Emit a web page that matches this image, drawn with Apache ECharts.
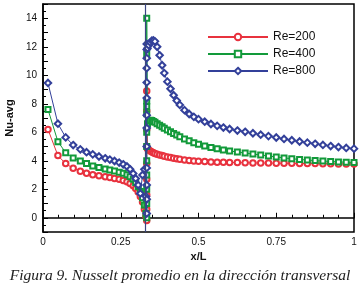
<!DOCTYPE html>
<html>
<head>
<meta charset="utf-8">
<script src="https://cdn.jsdelivr.net/npm/echarts@6/dist/echarts.min.js"></script>
<style>
html,body{margin:0;padding:0;background:#fff;}
#chart{width:360px;height:290px;}
</style>
</head>
<body>
<div id="chart"></div>
<script>
// ---- data ----
const seriesNames = ['Re=200', 'Re=400', 'Re=800'];
const xTickValues = [0, 0.25, 0.5, 0.75, 1];
const yTickValues = [0, 2, 4, 6, 8, 10, 12, 14];
const stepX = [0.3335];

const xLeft = [0.016,0.048,0.073,0.097,0.12,0.14,0.16,0.18,0.2,0.215,0.23,0.245,0.258,0.27,0.28,0.29,0.298,0.306,0.313,0.32,0.326,0.331];
const xRight = [0.336,0.34,0.345,0.35,0.355,0.36,0.367,0.375,0.383,0.39,0.4,0.41,0.42,0.43,0.44,0.455,0.47,0.485,0.5,0.52,0.54,0.56,0.58,0.6,0.625,0.65,0.675,0.7,0.725,0.75,0.775,0.8,0.825,0.85,0.875,0.9,0.925,0.95,0.975,1];

const re200Left = [6.2,4.36,3.8,3.47,3.26,3.12,3.02,2.94,2.87,2.82,2.76,2.7,2.62,2.52,2.4,2.25,2.05,1.8,1.5,1.1,0.6,0.1];
const re200Step = [-0.2,0.6,1.6,2.7,3.8,5.0,6.2,7.5,8.9];
const re200Right = [4.85,4.75,4.68,4.62,4.56,4.51,4.46,4.41,4.36,4.32,4.27,4.22,4.18,4.14,4.1,4.06,4.02,3.99,3.96,3.94,3.92,3.9,3.89,3.88,3.87,3.86,3.85,3.84,3.84,3.83,3.82,3.82,3.81,3.8,3.8,3.79,3.79,3.78,3.78,3.78];

const re400Left = [7.6,5.34,4.57,4.2,3.98,3.8,3.64,3.52,3.42,3.35,3.28,3.2,3.12,3.02,2.88,2.7,2.48,2.2,1.85,1.4,0.9,0.3];
const re400Step = [0.0,1.0,2.0,3.0,4.0,5.0,6.0,7.3,7.8,8.2,11.5,14.0];
const re400Right = [6.6,6.78,6.85,6.82,6.76,6.7,6.6,6.5,6.38,6.28,6.15,6.03,5.91,5.8,5.68,5.53,5.4,5.27,5.15,5.03,4.93,4.84,4.76,4.69,4.61,4.54,4.47,4.4,4.33,4.27,4.2,4.14,4.09,4.05,4.01,3.98,3.95,3.92,3.9,3.88];

const re800Left = [9.46,6.6,5.64,5.1,4.8,4.6,4.45,4.3,4.17,4.08,3.98,3.87,3.75,3.6,3.4,3.1,2.75,2.3,1.7,3.0,3.4,1.5];
const re800Step = [0.3,1.3,2.3,3.5,5.0,6.3,7.2,8.4,9.5,10.5,11.2,11.8,12.2];
const re800Right = [11.9,12.1,12.3,12.42,12.45,12.38,12.0,11.4,10.7,10.15,9.55,9.05,8.6,8.22,7.92,7.55,7.28,7.08,6.92,6.74,6.58,6.45,6.33,6.23,6.12,6.03,5.93,5.83,5.73,5.63,5.53,5.44,5.35,5.27,5.19,5.11,5.03,4.96,4.9,4.85];

const captionText = 'Figura 9. Nusselt promedio en la dirección transversal';

function build(left, step, right) {
  const pts = [];
  xLeft.forEach((x, i) => pts.push([x, left[i]]));
  step.forEach(v => pts.push([stepX[0], v]));
  xRight.forEach((x, i) => pts.push([x, right[i]]));
  return pts;
}

const colors = ['#e8323e', '#129a3a', '#33409a'];
const symbols = ['emptyCircle', 'emptyRect', 'emptyDiamond'];
const sizes = [5.5, 5, 6.5];
const datas = [
  build(re200Left, re200Step, re200Right),
  build(re400Left, re400Step, re400Right),
  build(re800Left, re800Step, re800Right)
];

const chart = echarts.init(document.getElementById('chart'), null, {renderer: 'canvas'});
const axisFont = 'Liberation Sans';
const series = seriesNames.map((n, i) => ({
  name: n,
  type: 'line',
  data: datas[i],
  symbol: symbols[i],
  symbolSize: sizes[i],
  showAllSymbol: true,
  color: colors[i],
  lineStyle: {width: 1, color: colors[i]},
  itemStyle: {color: colors[i], borderWidth: 1},
  emphasis: {disabled: true},
  z: 2 + i
}));
series[2].markLine = {
  silent: true,
  symbol: 'none',
  label: {show: false},
  lineStyle: {color: '#3a4580', width: 1.2, type: 'solid'},
  data: [{xAxis: stepX[0]}]
};

chart.setOption({
  animation: false,
  backgroundColor: '#fff',
  grid: {left: 43, right: 6, top: 4, bottom: 58, show: true, borderColor: '#000', borderWidth: 1.5,
    backgroundColor: 'transparent', outerBoundsMode: 'none', containLabel: false},
  legend: {
    data: seriesNames,
    orient: 'vertical',
    left: 202, top: 26,
    itemWidth: 60, itemHeight: 8, itemGap: 5,
    textStyle: {fontSize: 12, fontFamily: axisFont, color: '#111'}
  },
  xAxis: {
    type: 'value', min: 0, max: 1, interval: 0.25,
    name: 'x/L', nameLocation: 'middle', nameGap: 16,
    nameTextStyle: {fontFamily: axisFont, fontWeight: 'bold', fontSize: 11, color: '#111'},
    axisLine: {lineStyle: {color: '#000', width: 1.5}},
    axisTick: {inside: true, length: 5, lineStyle: {color: '#000'}},
    minorTick: {show: true, splitNumber: 5, length: 3, lineStyle: {color: '#000'}},
    splitLine: {show: false},
    axisLabel: {fontFamily: axisFont, fontSize: 10, color: '#111', margin: 5,
      formatter: v => xTickValues.includes(v) ? String(v) : ''}
  },
  yAxis: {
    type: 'value', min: -1, max: 15, interval: 1,
    name: 'Nu-avg', nameLocation: 'middle', nameGap: 28,
    nameTextStyle: {fontFamily: axisFont, fontWeight: 'bold', fontSize: 11, color: '#111'},
    axisLine: {show: true, lineStyle: {color: '#000', width: 1.5}},
    axisTick: {inside: true, length: 5, lineStyle: {color: '#000'}},
    minorTick: {show: true, splitNumber: 2, length: 3, lineStyle: {color: '#000'}},
    splitLine: {show: false},
    axisLabel: {fontFamily: axisFont, fontSize: 10, color: '#111', margin: 6,
      formatter: v => yTickValues.some(t => Math.abs(t - v) < 1e-9) ? String(Math.round(v)) : ''}
  },
  graphic: [{
    type: 'text', left: 'center', top: 268,
    style: {text: captionText, font: 'italic 15.5px "Liberation Serif"', fill: '#222'}
  }],
  series: series
});
</script>
</body>
</html>
